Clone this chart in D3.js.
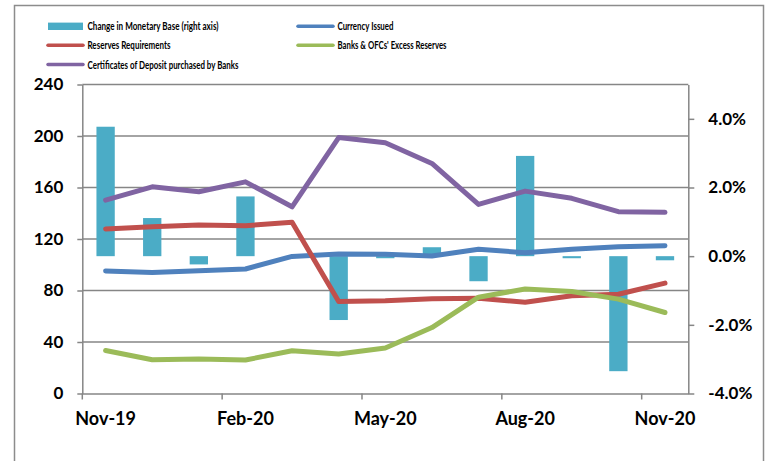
<!DOCTYPE html>
<html>
<head>
<meta charset="utf-8">
<script src="https://cdn.jsdelivr.net/npm/d3@7"></script>
<style>
  html, body { margin: 0; padding: 0; background: #fff; }
  svg { display: block; }
  text { font-family: "Liberation Sans Narrow", Lato, "Liberation Sans", sans-serif; font-weight: bold; fill: #000; }
  .tick text { font-family: Lato, "Open Sans", sans-serif; font-weight: bold; font-size: 17px; }
  .xaxis .tick text { font-size: 18px; }
</style>
</head>
<body>
<svg id="chart" width="771" height="461"></svg>
<script>
const categories = ["Nov-19","Dec-19","Jan-20","Feb-20","Mar-20","Apr-20","May-20","Jun-20","Jul-20","Aug-20","Sep-20","Oct-20","Nov-20"];
const monetaryBaseChange = [3.77, 1.11, -0.24, 1.74, 0.0, -1.86, -0.06, 0.26, -0.73, 2.92, -0.06, -3.35, -0.12];
const currencyIssued = [95.2, 93.9, 95.4, 96.7, 106.5, 108.3, 108.2, 106.8, 112.0, 109.4, 112.0, 114.0, 114.8];
const reservesRequirements = [127.8, 129.5, 130.9, 130.3, 133.0, 71.4, 72.0, 73.5, 74.0, 70.9, 76.0, 77.1, 85.7];
const excessReserves = [33.4, 26.2, 26.7, 26.0, 33.2, 30.6, 35.3, 51.2, 74.8, 81.2, 79.2, 73.3, 62.9];
const certificatesOfDeposit = [150.2, 160.5, 156.7, 164.4, 145.0, 198.8, 194.7, 178.7, 146.9, 157.2, 151.6, 141.2, 140.7];
const leftTicks = [0, 40, 80, 120, 160, 200, 240];
const rightTicks = [-4, -2, 0, 2, 4];

const legendItems = [
  {label: "Change in Monetary Base (right axis)", type: "bar", color: "#4BACC6", col: 0, row: 0, w: 131},
  {label: "Currency Issued", type: "line", color: "#4F81BD", col: 1, row: 0, w: 56},
  {label: "Reserves Requirements", type: "line", color: "#C0504D", col: 0, row: 1, w: 83},
  {label: "Banks & OFCs' Excess Reserves", type: "line", color: "#9BBB59", col: 1, row: 1, w: 109},
  {label: "Certificates of Deposit purchased by Banks", type: "line", color: "#8064A2", col: 0, row: 2, w: 151}
];

const svg = d3.select("#chart");
const plot = {left: 82.3, right: 688.3, top: 84.5, bottom: 393.5};
const gridColor = "#868686";

// outer frame
svg.append("rect").attr("x", 14.5).attr("y", 5.5).attr("width", 749).attr("height", 470)
  .attr("fill", "none").attr("stroke", "#8c8c8c").attr("stroke-width", 1.5);

const x = d3.scaleBand().domain(categories).range([plot.left, plot.right]).padding(0);
const xBar = d3.scaleBand().domain(categories).range([plot.left, plot.right]).paddingInner(0.607).paddingOuter(0.3035);
const yL = d3.scaleLinear().domain([0, 240]).range([plot.bottom, plot.top]);
const yR = d3.scaleLinear().domain([-4, 5]).range([plot.bottom, plot.top]);

// gridlines
svg.append("g").selectAll("line").data(leftTicks.filter(d => d > 0)).join("line")
  .attr("x1", plot.left).attr("x2", plot.right)
  .attr("y1", d => yL(d)).attr("y2", d => yL(d))
  .attr("stroke", gridColor).attr("stroke-width", 1.5);

// bars
svg.append("g").selectAll("rect").data(categories).join("rect")
  .attr("x", d => xBar(d))
  .attr("width", xBar.bandwidth())
  .attr("y", (d, i) => Math.min(yR(monetaryBaseChange[i]), yR(0)))
  .attr("height", (d, i) => Math.abs(yR(monetaryBaseChange[i]) - yR(0)))
  .attr("fill", "#4BACC6");

// axes
function styleAxis(g) {
  g.select(".domain").attr("stroke", gridColor).attr("stroke-width", 1.5);
  g.selectAll(".tick line").attr("stroke", gridColor).attr("stroke-width", 1.5);
}
svg.append("g").attr("transform", `translate(${plot.left},0)`)
  .call(d3.axisLeft(yL).tickValues(leftTicks).tickSize(5).tickSizeOuter(0).tickPadding(14))
  .call(styleAxis);
const rAxis = svg.append("g").attr("transform", `translate(${plot.right},0)`)
  .call(d3.axisRight(yR).tickValues(rightTicks).tickSize(6).tickSizeOuter(0).tickPadding(14)
    .tickFormat(d => d3.format(".1f")(d).replace("−", "-") + "%"))
  .call(styleAxis);
rAxis.selectAll(".tick text").attr("text-anchor", "start");

const every3 = categories.filter((d, i) => i % 3 === 0);
const xAxis = svg.append("g").attr("class", "xaxis").attr("transform", `translate(0,${plot.bottom})`)
  .call(d3.axisBottom(x).tickValues(every3).tickSize(6).tickSizeOuter(0).tickPadding(13))
  .call(styleAxis);
xAxis.selectAll(".tick line").attr("x1", -x.bandwidth() / 2).attr("x2", -x.bandwidth() / 2);

// lines
const cx = d => x(d) + x.bandwidth() / 2;
const lineSeries = [
  {values: currencyIssued, color: "#4F81BD"},
  {values: reservesRequirements, color: "#C0504D"},
  {values: excessReserves, color: "#9BBB59"},
  {values: certificatesOfDeposit, color: "#8064A2"}
];
const lineGen = d3.line().x(d => cx(d.c)).y(d => yL(d.v));
lineSeries.forEach(s => {
  svg.append("path")
    .datum(categories.map((c, i) => ({c, v: s.values[i]})))
    .attr("d", lineGen)
    .attr("fill", "none").attr("stroke", s.color).attr("stroke-width", 5)
    .attr("stroke-linejoin", "round").attr("stroke-linecap", "round");
});

// legend
const colX = [48, 298];
const rowY = [26.3, 45.3, 64.6];
const lg = svg.append("g");
legendItems.forEach(it => {
  const sx = colX[it.col], sy = rowY[it.row];
  if (it.type === "bar") {
    lg.append("rect").attr("x", sx).attr("y", sy - 3.7).attr("width", 35).attr("height", 7.4).attr("fill", it.color);
  } else {
    lg.append("line").attr("x1", sx).attr("x2", sx + 35).attr("y1", sy).attr("y2", sy)
      .attr("stroke", it.color).attr("stroke-width", 3.5).attr("stroke-linecap", "round");
  }
  lg.append("text").attr("x", sx + 39.5).attr("y", sy + 4).attr("font-size", 11.5)
    .attr("textLength", it.w).attr("lengthAdjust", "spacingAndGlyphs")
    .text(it.label);
});
</script>
</body>
</html>
